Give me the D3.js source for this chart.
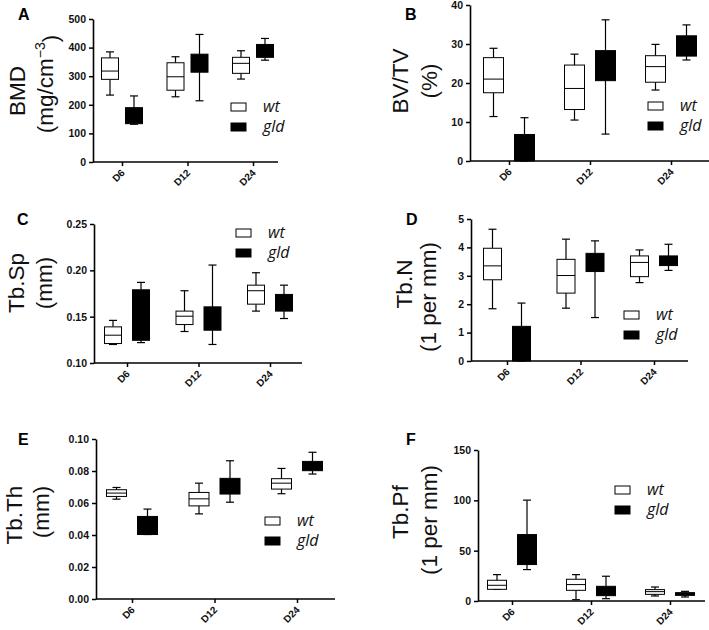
<!DOCTYPE html>
<html><head><meta charset="utf-8">
<script src="https://cdn.jsdelivr.net/npm/d3@7/dist/d3.min.js"></script>
<style>body{margin:0;background:#fff}svg{display:block}</style>
</head><body>
<script>
// ---------- data ----------
const categories = ["D6", "D12", "D24"];
const seriesNames = ["wt", "gld"];
// each entry: [min, Q1, median, Q3, max]
const bmdWt  = [[234, 289, 318, 364, 385], [228, 251, 298, 347, 368], [290, 310, 345, 366, 389]];
const bmdGld = [[132, 134, 160, 190, 231], [214, 314, 345, 377, 446], [356, 366, 390, 411, 432]];
const bvtvWt  = [[11.4, 17.5, 21.0, 26.5, 28.9], [10.5, 13.2, 18.6, 24.6, 27.4], [18.2, 20.2, 24.2, 27.0, 29.9]];
const bvtvGld = [[0, 0, 2, 6.8, 11.1], [6.9, 20.6, 24, 28.3, 36.2], [25.9, 26.9, 29, 32.1, 34.9]];
const tbspWt  = [[0.120, 0.121, 0.130, 0.139, 0.146], [0.134, 0.1415, 0.1505, 0.156, 0.178], [0.156, 0.1635, 0.178, 0.184, 0.1974]];
const tbspGld = [[0.122, 0.1245, 0.15, 0.179, 0.187], [0.120, 0.1354, 0.148, 0.1606, 0.2057], [0.148, 0.156, 0.165, 0.174, 0.184]];
const tbnWt  = [[1.84, 2.86, 3.35, 3.97, 4.64], [1.86, 2.39, 3.01, 3.58, 4.29], [2.76, 2.97, 3.47, 3.70, 3.91]];
const tbnGld = [[0, 0, 0.5, 1.22, 2.04], [1.53, 3.15, 3.5, 3.79, 4.23], [3.19, 3.36, 3.5, 3.70, 4.11]];
const tbthWt  = [[0.0624, 0.0641, 0.0662, 0.0683, 0.0697], [0.0532, 0.0582, 0.0626, 0.0666, 0.0724], [0.0658, 0.0687, 0.0724, 0.0752, 0.0816]];
const tbthGld = [[0.0403, 0.0403, 0.045, 0.0516, 0.0562], [0.0605, 0.0656, 0.070, 0.0754, 0.0864], [0.0781, 0.0802, 0.083, 0.0860, 0.0917]];
const tbpfWt  = [[11.6, 11.6, 15.6, 20.6, 26.2], [1.3, 10.6, 16.3, 21.6, 26.2], [5.0, 6.6, 9.3, 11.3, 13.9]];
const tbpfGld = [[31.2, 36.2, 45, 66.0, 100.2], [2.3, 5.3, 10, 14.6, 24.6], [4.0, 5.6, 7, 8.3, 9.6]];
const ticksA = [0, 100, 200, 300, 400, 500];
const ticksB = [0, 10, 20, 30, 40];
const ticksC = [0.10, 0.15, 0.20, 0.25];
const ticksD = [0, 1, 2, 3, 4, 5];
const ticksE = [0.00, 0.02, 0.04, 0.06, 0.08, 0.10];
const ticksF = [0, 50, 100, 150];

// ---------- layout ----------
const panels = [
  {letter:"A", lx:18, ly:20, wt:bmdWt, gld:bmdGld, ticks:ticksA, fmt:d3.format("d"),
   ax:93, xr:278, y0:162, y1:19, g0:122, g2:253, off:12, bw:17,
   lab1:"BMD", lab2:["(mg/cm", "-3", ")"], l1x:25, l2x:53, l1y:91, l2y:84,
   legX:231, legY:103},
  {letter:"B", lx:405, ly:20, wt:bvtvWt, gld:bvtvGld, ticks:ticksB, fmt:d3.format("d"),
   ax:470, xr:709, y0:161, y1:5, g0:509, g2:671, off:15.5, bw:20,
   lab1:"BV/TV", lab2:["(%)"], l1x:408, l2x:437, l1y:81, l2y:81,
   legX:648, legY:102},
  {letter:"C", lx:17, ly:225, wt:tbspWt, gld:tbspGld, ticks:ticksC, fmt:d3.format(".2f"),
   ax:94, xr:302, y0:363, y1:224, g0:127, g2:270, off:14, bw:17,
   lab1:"Tb.Sp", lab2:["(mm)"], l1x:24, l2x:52, l1y:283, l2y:283,
   legX:236, legY:229},
  {letter:"D", lx:406, ly:225, wt:tbnWt, gld:tbnGld, ticks:ticksD, fmt:d3.format("d"),
   ax:471, xr:688, y0:361, y1:219, g0:507, g2:654, off:14.5, bw:18,
   lab1:"Tb.N", lab2:["(1 per mm)"], l1x:412, l2x:436, l1y:284, l2y:297,
   legX:624, legY:311},
  {letter:"E", lx:18, ly:445, wt:tbthWt, gld:tbthGld, ticks:ticksE, fmt:d3.format(".2f"),
   ax:96, xr:335, y0:599, y1:439, g0:132, g2:297, off:15.5, bw:20,
   lab1:"Tb.Th", lab2:["(mm)"], l1x:22, l2x:49, l1y:515, l2y:512,
   legX:265, legY:517},
  {letter:"F", lx:406, ly:445, wt:tbpfWt, gld:tbpfGld, ticks:ticksF, fmt:d3.format("d"),
   ax:478, xr:705, y0:601, y1:450, g0:512, g2:670, off:15, bw:19,
   lab1:"Tb.Pf", lab2:["(1 per mm)"], l1x:408, l2x:437, l1y:512, l2y:520,
   legX:615, legY:486}
];
const fills = {wt:"#fff", gld:"#000"};
const font = "'Liberation Sans', Arial, sans-serif";

const svg = d3.select("body").append("svg").attr("width", 709).attr("height", 630)
  .style("font-family", font);

panels.forEach(p => {
  const g = svg.append("g");
  const dom = [p.ticks[0], p.ticks[p.ticks.length - 1]];
  const y = d3.scaleLinear().domain(dom).range([p.y0, p.y1]);
  const x = d3.scalePoint().domain(categories).range([p.g0, p.g2]);

  // boxes
  seriesNames.forEach((s, si) => {
    const data = p[s];
    const dx = si === 0 ? -p.off : p.off;
    const grp = g.append("g");
    data.forEach((v, i) => {
      const cx = x(categories[i]) + dx;
      const [mn, q1, md, q3, mx] = v;
      const cap = 8;
      const stroke = "#000";
      grp.append("line").attr("x1", cx).attr("x2", cx).attr("y1", y(mx)).attr("y2", y(q3)).attr("stroke", stroke).attr("stroke-width", 1.2);
      grp.append("line").attr("x1", cx).attr("x2", cx).attr("y1", y(q1)).attr("y2", y(mn)).attr("stroke", stroke).attr("stroke-width", 1.2);
      grp.append("line").attr("x1", cx - cap / 2).attr("x2", cx + cap / 2).attr("y1", y(mx)).attr("y2", y(mx)).attr("stroke", stroke).attr("stroke-width", 1.2);
      grp.append("line").attr("x1", cx - cap / 2).attr("x2", cx + cap / 2).attr("y1", y(mn)).attr("y2", y(mn)).attr("stroke", stroke).attr("stroke-width", 1.2);
      grp.append("rect").attr("x", cx - p.bw / 2).attr("y", y(q3)).attr("width", p.bw)
        .attr("height", Math.max(0, y(q1) - y(q3))).attr("fill", fills[s]).attr("stroke", stroke).attr("stroke-width", 1);
      grp.append("line").attr("x1", cx - p.bw / 2).attr("x2", cx + p.bw / 2).attr("y1", y(md)).attr("y2", y(md)).attr("stroke", stroke).attr("stroke-width", 1);
    });
  });

  // y axis
  const yAx = g.append("g").attr("transform", `translate(${p.ax},0)`)
    .call(d3.axisLeft(y).tickValues(p.ticks).tickFormat(p.fmt).tickSize(4).tickSizeOuter(0).tickPadding(3));
  yAx.select(".domain").attr("stroke-width", 1.6);
  yAx.selectAll(".tick line").attr("stroke-width", 1.5);
  yAx.selectAll(".tick text").style("font-size", "10.5px").style("font-weight", "bold").style("font-family", font).attr("fill", "#111");

  // x axis
  const xAx = g.append("g").attr("transform", `translate(0,${p.y0})`)
    .call(d3.axisBottom(x).tickSize(4).tickSizeOuter(0).tickFormat(""));
  xAx.select(".domain").remove();
  xAx.selectAll(".tick line").attr("stroke-width", 1.5);
  xAx.append("line").attr("x1", p.ax).attr("x2", p.xr).attr("y1", 0).attr("y2", 0).attr("stroke", "#000").attr("stroke-width", 1.6);
  categories.forEach(c => {
    xAx.append("text").attr("transform", `translate(${x(c) + 1},${9}) rotate(-45)`)
      .attr("text-anchor", "end").attr("dy", "0.35em")
      .style("font-size", "10px").style("font-weight", "bold").attr("fill", "#111").text(c);
  });

  // axis titles (rotated)
  g.append("text").attr("transform", `translate(${p.l1x},${p.l1y}) rotate(-90)`)
    .attr("text-anchor", "middle").style("font-size", "22.5px").attr("fill", "#111").text(p.lab1);
  const t2 = g.append("text").attr("transform", `translate(${p.l2x},${p.l2y}) rotate(-90)`)
    .attr("text-anchor", "middle").style("font-size", "22.5px").attr("fill", "#111");
  if (p.lab2.length === 3) {
    t2.append("tspan").text(p.lab2[0]);
    t2.append("tspan").attr("dy", "-0.55em").style("font-size", "14px").text("\u2212" + p.lab2[1].slice(1));
    t2.append("tspan").attr("dy", "0.55em").text(p.lab2[2]);
  } else {
    t2.text(p.lab2[0]);
  }

  // panel letter
  g.append("text").attr("x", p.lx).attr("y", p.ly).style("font-size", "16px").style("font-weight", "bold").text(p.letter);

  // legend
  seriesNames.forEach((s, si) => {
    const yy = p.legY + si * 20;
    g.append("rect").attr("x", p.legX).attr("y", yy).attr("width", 15).attr("height", 8)
      .attr("fill", fills[s]).attr("stroke", "#000").attr("stroke-width", 1);
    g.append("text").attr("x", p.legX + 32).attr("y", yy + 9).style("font-size", "16px")
      .style("font-style", "italic").style("font-family", "'Open Sans', sans-serif").attr("fill", "#111").text(s);
  });
});
</script>
</body></html>
